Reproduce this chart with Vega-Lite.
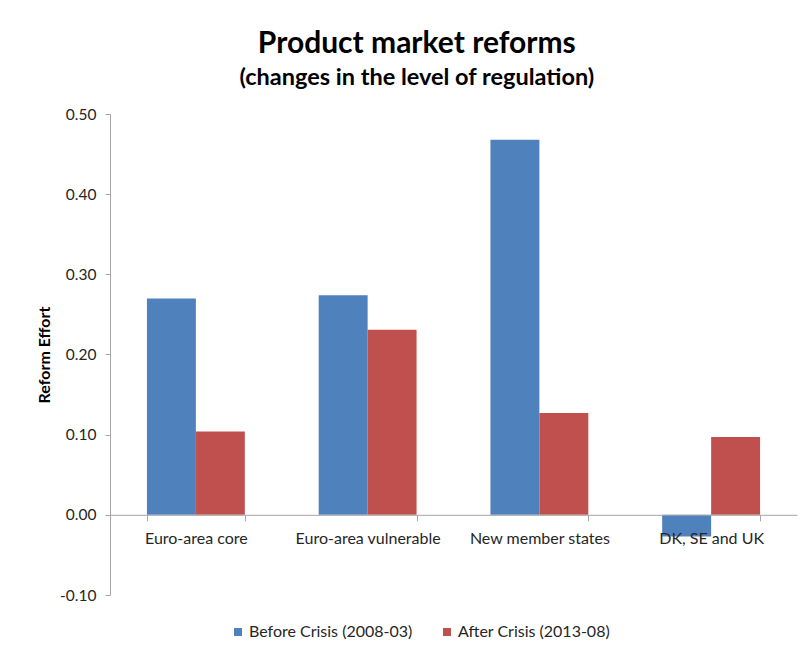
{
  "$schema": "https://vega.github.io/schema/vega-lite/v6.json",
  "width": 687,
  "height": 481,
  "autosize": {"type": "none"},
  "padding": {"left": 110, "top": 114, "right": 13, "bottom": 57},
  "background": "white",
  "title": {
    "text": "Product market reforms",
    "subtitle": "(changes in the level of regulation)",
    "anchor": "middle",
    "frame": "bounds",
    "font": "Lato",
    "fontSize": 30,
    "fontWeight": "bold",
    "color": "#000000",
    "subtitleFont": "Lato",
    "subtitleFontSize": 23.5,
    "subtitleFontWeight": "bold",
    "subtitleColor": "#000000",
    "subtitlePadding": 7,
    "offset": 18
  },
  "data": {
    "values": [
      {"region": "Euro-area core", "series": "Before Crisis (2008-03)", "value": 0.270},
      {"region": "Euro-area core", "series": "After Crisis (2013-08)", "value": 0.104},
      {"region": "Euro-area vulnerable", "series": "Before Crisis (2008-03)", "value": 0.274},
      {"region": "Euro-area vulnerable", "series": "After Crisis (2013-08)", "value": 0.231},
      {"region": "New member states", "series": "Before Crisis (2008-03)", "value": 0.468},
      {"region": "New member states", "series": "After Crisis (2013-08)", "value": 0.127},
      {"region": "DK, SE and UK", "series": "Before Crisis (2008-03)", "value": -0.027},
      {"region": "DK, SE and UK", "series": "After Crisis (2013-08)", "value": 0.097}
    ]
  },
  "mark": {"type": "bar"},
  "encoding": {
    "x": {
      "field": "region",
      "type": "nominal",
      "sort": ["Euro-area core", "Euro-area vulnerable", "New member states", "DK, SE and UK"],
      "scale": {"paddingInner": 0.43, "paddingOuter": 0.215},
      "axis": {
        "title": null,
        "labelAngle": 0,
        "offset": -80.2,
        "tickBand": "extent",
        "zindex": 1,
        "domainColor": "#A6A6A6",
        "tickColor": "#A6A6A6",
        "tickSize": 6,
        "labelPadding": 10,
        "labelFont": "Lato",
        "labelFontSize": 16,
        "labelColor": "#262626"
      }
    },
    "xOffset": {
      "field": "series",
      "type": "nominal",
      "sort": ["Before Crisis (2008-03)", "After Crisis (2013-08)"]
    },
    "y": {
      "field": "value",
      "type": "quantitative",
      "scale": {"domain": [-0.1, 0.5], "nice": false, "zero": false},
      "axis": {
        "values": [-0.1, 0, 0.1, 0.2, 0.3, 0.4, 0.5],
        "format": ".2f",
        "labelExpr": "replace(datum.label, '\u2212', '-')",
        "grid": false,
        "title": "Reform Effort",
        "titleFont": "Lato",
        "titleFontSize": 16,
        "titleFontWeight": "bold",
        "titleColor": "#000000",
        "titlePadding": 7,
        "domainColor": "#A6A6A6",
        "tickColor": "#A6A6A6",
        "tickSize": 5,
        "labelPadding": 9,
        "labelFont": "Lato",
        "labelFontSize": 15.5,
        "labelColor": "#262626"
      }
    },
    "color": {
      "field": "series",
      "type": "nominal",
      "sort": ["Before Crisis (2008-03)", "After Crisis (2013-08)"],
      "scale": {
        "domain": ["Before Crisis (2008-03)", "After Crisis (2013-08)"],
        "range": ["#4F81BD", "#C0504D"]
      },
      "legend": {
        "title": null,
        "orient": "none",
        "direction": "horizontal",
        "legendX": 120,
        "legendY": 510,
        "symbolType": "square",
        "symbolSize": 64,
        "symbolStrokeWidth": 0,
        "labelFont": "Lato",
        "labelFontSize": 16,
        "labelLimit": 400,
        "labelColor": "#262626",
        "labelOffset": 3,
        "columnPadding": 26
      }
    }
  },
  "config": {"view": {"stroke": null}}
}
